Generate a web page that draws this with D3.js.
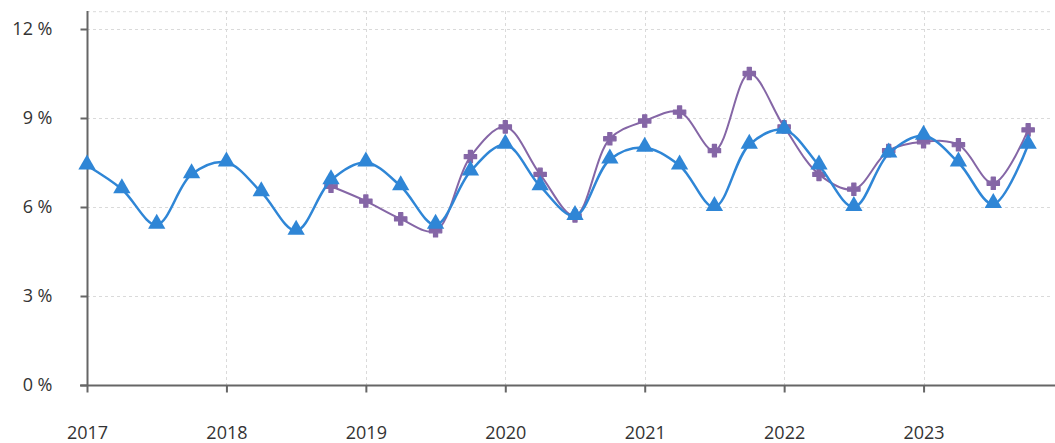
<!DOCTYPE html>
<html><head><meta charset="utf-8">
<script src="https://cdn.jsdelivr.net/npm/d3@7"></script>
<style>body{margin:0;background:#fff}svg{display:block}</style>
</head><body><svg id="c" width="1055" height="443"></svg>
<script>
const years = [2017, 2018, 2019, 2020, 2021, 2022, 2023];
const yTicks = [0, 3, 6, 9, 12];
// quarterly, starting 2017 Q1
const blueValues = [7.4, 6.6, 5.4, 7.1, 7.5, 6.5, 5.2, 6.9, 7.5, 6.7, 5.4, 7.2, 8.1, 6.7, 5.7, 7.6, 8.0, 7.4, 6.0, 8.1, 8.6, 7.4, 6.0, 7.8, 8.4, 7.5, 6.1, 8.1];
// starting 2018 Q4
const purpleStart = 7;
const purpleValues = [6.7, 6.2, 5.6, 5.2, 7.7, 8.7, 7.1, 5.7, 8.3, 8.9, 9.2, 7.9, 10.5, 8.7, 7.1, 6.6, 7.9, 8.2, 8.1, 6.8, 8.6];

const svg = d3.select("#c");
const x = d3.scaleLinear().domain([2017, 2024]).range([87, 1063]);
const y = d3.scaleLinear().domain([0, 12]).range([385, 29]);
const font = "'Open Sans', 'Noto Sans', sans-serif";

// grid
const g = svg.append("g");
g.selectAll(".hg").data(yTicks.concat([12.6])).join("line")
  .attr("x1", 87).attr("x2", 1052)
  .attr("y1", d => y(d) + 0.5).attr("y2", d => y(d) + 0.5)
  .attr("stroke", "#dadada").attr("stroke-dasharray", "3,3");
g.selectAll(".vg").data(years).join("line")
  .attr("x1", d => Math.round(x(d)) + 0.5).attr("x2", d => Math.round(x(d)) + 0.5)
  .attr("y1", 11).attr("y2", 385)
  .attr("stroke", "#dadada").attr("stroke-dasharray", "3,3");

// axes
const ya = svg.append("g").attr("transform", "translate(87.5,0)")
  .call(d3.axisLeft(y).tickValues(yTicks).tickSize(7).tickPadding(28).tickFormat(d => d + " %"));
ya.select(".domain").attr("d", "M0,11V385.5").attr("stroke", "#666").attr("stroke-width", 2);
ya.selectAll(".tick line").attr("stroke", "#666").attr("stroke-width", 2);
ya.selectAll("text").attr("font-family", font).attr("font-size", 18).attr("fill", "#333");

const xa = svg.append("g").attr("transform", "translate(0,385.5)")
  .call(d3.axisBottom(x).tickValues(years).tickSize(7).tickPadding(34).tickFormat(d3.format("d")));
xa.select(".domain").attr("d", "M80,0H1055").attr("stroke", "#666").attr("stroke-width", 2);
xa.selectAll(".tick line").attr("stroke", "#666").attr("stroke-width", 2);
xa.selectAll("text").attr("font-family", font).attr("font-size", 18).attr("fill", "#333");

const q = i => 2017 + i / 4;
const line = d3.line().curve(d3.curveCatmullRom.alpha(0.5));

// purple
const pPts = purpleValues.map((v, i) => [x(q(i + purpleStart)), y(v)]);
svg.append("path").attr("d", line(pPts)).attr("fill", "none").attr("stroke", "#8566a6").attr("stroke-width", 2);
const cross = d3.symbol().type(d3.symbolCross).size(85);
svg.selectAll(".pm").data(pPts).join("path")
  .attr("transform", d => `translate(${d[0]},${d[1]})`).attr("d", cross())
  .attr("fill", "#8566a6").attr("stroke", "#8566a6").attr("stroke-width", 1.2).attr("stroke-linejoin", "round");

// blue
const bPts = blueValues.map((v, i) => [x(q(i)), y(v)]);
svg.append("path").attr("d", line(bPts)).attr("fill", "none").attr("stroke", "#2f86d6").attr("stroke-width", 2.5);
const tri = d3.symbol().type(d3.symbolTriangle).size(130);
svg.selectAll(".bm").data(bPts).join("path")
  .attr("transform", d => `translate(${d[0]},${d[1] - 1})`).attr("d", tri()).attr("fill", "#2f86d6");
</script></body></html>
